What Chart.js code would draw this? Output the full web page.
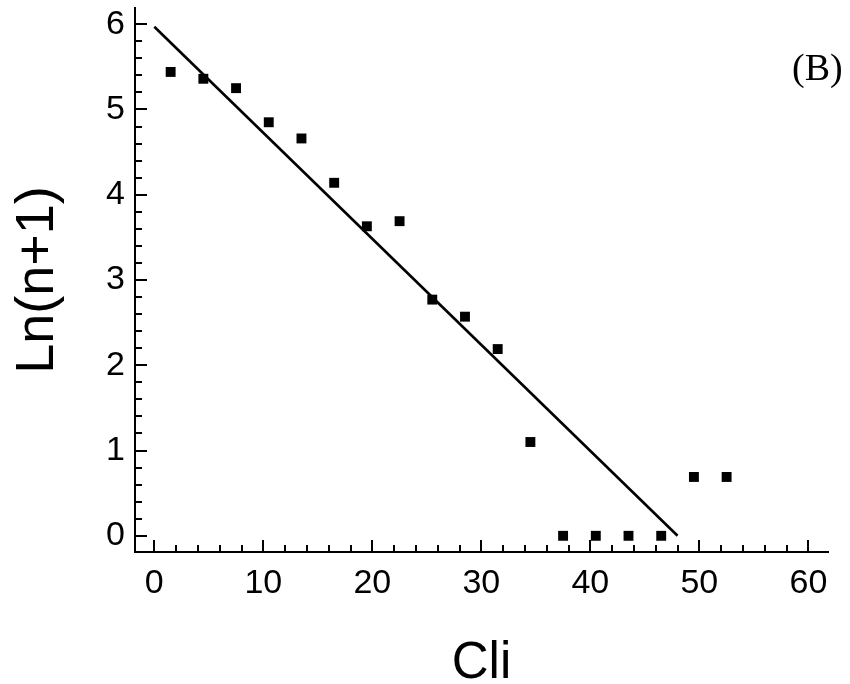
<!DOCTYPE html>
<html>
<head>
<meta charset="utf-8">
<script src="https://cdn.jsdelivr.net/npm/chart.js@4.4.0/dist/chart.umd.min.js"></script>
<style>
  html, body { margin: 0; padding: 0; background: #fff; }
</style>
</head>
<body>
<canvas id="chart" width="850" height="684"></canvas>
<script>
// measured points
const cliValues = [1.5, 4.5, 7.5, 10.5, 13.5, 16.5, 19.5, 22.5, 25.5, 28.5, 31.5, 34.5, 37.5, 40.5, 43.5, 46.5, 49.5, 52.5];
const lnValues = [5.44, 5.36, 5.25, 4.85, 4.66, 4.14, 3.63, 3.69, 2.77, 2.57, 2.19, 1.10, 0, 0, 0, 0, 0.69, 0.69];

// fitted line
const fitX = [0, 48];
const fitY = [5.97, 0];

const xTickValues = [0, 10, 20, 30, 40, 50, 60];
const yTickValues = [0, 1, 2, 3, 4, 5, 6];
const xMinorStep = 2;
const yMinorStep = 0.2;

const pointData = cliValues.map((v, i) => ({ x: v, y: lnValues[i] }));
const lineData = fitX.map((v, i) => ({ x: v, y: fitY[i] }));

// ticks point into the plot, majors longer than minors
const innerTicks = {
  id: 'innerTicks',
  afterDraw(chart) {
    const { ctx, chartArea, scales: { x, y } } = chart;
    ctx.save();
    ctx.strokeStyle = '#000';
    ctx.lineWidth = 2;
    const xLast = xTickValues[xTickValues.length - 1];
    for (let i = 0; i * xMinorStep <= xLast + 1e-9; i++) {
      const v = xTickValues[0] + i * xMinorStep;
      const px = Math.round(x.getPixelForValue(v));
      const len = xTickValues.includes(v) ? 12 : 7;
      ctx.beginPath();
      ctx.moveTo(px, chartArea.bottom);
      ctx.lineTo(px, chartArea.bottom - len);
      ctx.stroke();
    }
    const yLast = yTickValues[yTickValues.length - 1];
    const perMajor = Math.round(1 / yMinorStep);
    for (let i = 0; i * yMinorStep <= yLast + 1e-9; i++) {
      const v = yTickValues[0] + i * yMinorStep;
      const py = Math.round(y.getPixelForValue(v));
      const len = i % perMajor === 0 ? 12 : 7;
      ctx.beginPath();
      ctx.moveTo(chartArea.left, py);
      ctx.lineTo(chartArea.left + len, py);
      ctx.stroke();
    }
    ctx.fillStyle = '#000';
    ctx.font = '38px "Liberation Serif", "Times New Roman", serif';
    ctx.textBaseline = 'alphabetic';
    ctx.textAlign = 'left';
    ctx.fillText('(B)', 792, 80);
    ctx.restore();
  }
};

const ctx = document.getElementById('chart').getContext('2d');

new Chart(ctx, {
  type: 'scatter',
  data: {
    datasets: [
      {
        label: 'Ln(n+1)',
        data: pointData,
        pointStyle: 'rect',
        pointRadius: 7,
        pointHoverRadius: 7,
        backgroundColor: '#000',
        borderColor: '#000',
        borderWidth: 0,
        showLine: false,
      },
      {
        label: 'fit',
        data: lineData,
        showLine: true,
        borderColor: '#000',
        borderWidth: 2.6,
        pointRadius: 0,
        fill: false,
      },
    ],
  },
  options: {
    responsive: false,
    animation: false,
    layout: {
      padding: { top: 8, right: 22, left: 0, bottom: 0 },
    },
    plugins: {
      legend: { display: false },
      tooltip: { enabled: false },
    },
    scales: {
      x: {
        type: 'linear',
        min: -1.77,
        max: 61.8,
        afterBuildTicks: (scale) => {
          scale.ticks = xTickValues.map(v => ({ value: v }));
        },
        afterFit: (scale) => {
          scale.height = 132;
          scale.paddingLeft = 0;
          scale.paddingRight = 0;
        },
        grid: { display: true, drawOnChartArea: false, drawTicks: false },
        border: { display: true, color: '#000', width: 2 },
        ticks: {
          color: '#000',
          padding: 11,
          maxRotation: 0,
          font: { family: '"Liberation Sans", Arial, sans-serif', size: 34 },
        },
        title: {
          display: true,
          text: 'Cli',
          color: '#000',
          padding: 0,
          font: { family: '"Liberation Sans", Arial, sans-serif', size: 51, lineHeight: 0.8 },
        },
      },
      y: {
        type: 'linear',
        min: -0.19,
        max: 6.19,
        afterBuildTicks: (scale) => {
          scale.ticks = yTickValues.map(v => ({ value: v }));
        },
        afterFit: (scale) => {
          scale.width = 135;
          scale.paddingTop = 0;
          scale.paddingBottom = 0;
        },
        grid: { display: true, drawOnChartArea: false, drawTicks: false },
        border: { display: true, color: '#000', width: 2 },
        ticks: {
          color: '#000',
          padding: 10,
          font: { family: '"Liberation Sans", Arial, sans-serif', size: 34 },
        },
        title: {
          display: true,
          text: 'Ln(n+1)',
          color: '#000',
          padding: 0,
          font: { family: '"Liberation Sans", Arial, sans-serif', size: 54, lineHeight: 1.4 },
        },
      },
    },
  },
  plugins: [innerTicks],
});
</script>
</body>
</html>
